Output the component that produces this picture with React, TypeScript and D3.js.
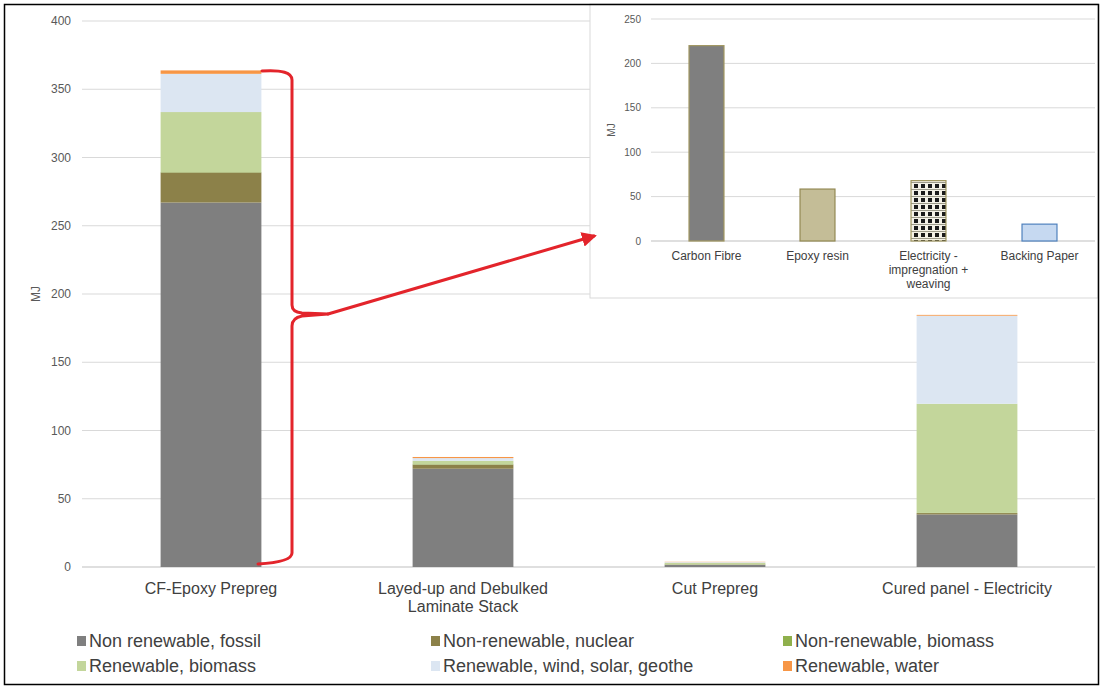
import React from "react";
import * as d3 from "d3";

// Main chart data (MJ)
const stages = ["CF-Epoxy Prepreg", "Layed-up and Debulked|Laminate Stack", "Cut Prepreg", "Cured panel - Electricity"];
const seriesNames = [
  "Non renewable, fossil",
  "Non-renewable, nuclear",
  "Non-renewable, biomass",
  "Renewable, biomass",
  "Renewable, wind, solar, geothe",
  "Renewable, water",
];
const seriesColors = ["#7f7f7f", "#8c8149", "#8fb04c", "#c3d69b", "#dce6f2", "#f79646"];
const fossil = [267, 72, 1.5, 38.5];
const nuclear = [22, 3, 0.3, 1];
const nrBiomass = [0.3, 0.3, 0.1, 0.1];
const rBiomass = [44, 2.5, 1.2, 80];
const windSolar = [28, 2, 0.5, 64.5];
const water = [2.5, 0.8, 0.2, 0.6];
const yTicks = [0, 50, 100, 150, 200, 250, 300, 350, 400];

// Inset data
const insetCats = ["Carbon Fibre", "Epoxy resin", "Electricity -|impregnation +|weaving", "Backing Paper"];
const insetVals = [220, 58.5, 68, 19];
const insetTicks = [0, 50, 100, 150, 200, 250];

const FONT = "'Liberation Sans', Arial, sans-serif";

export default function App() {
  const W = 1101;
  const H = 689;
  const x = d3.scaleBand<string>().domain(stages).range([85, 1093]).paddingInner(0.6).paddingOuter(0.3);
  const y = d3.scaleLinear().domain([0, 400]).range([567, 21]);

  const rows = stages.map((s, i) => {
    const r: any = { stage: s };
    const vals = [fossil, nuclear, nrBiomass, rBiomass, windSolar, water];
    seriesNames.forEach((n, k) => (r[n] = vals[k][i]));
    return r;
  });
  const stacked = d3.stack<any>().keys(seriesNames)(rows);

  const ix = d3.scaleBand<string>().domain(insetCats).range([651, 1095]).paddingInner(0.676).paddingOuter(0.338);
  const iy = d3.scaleLinear().domain([0, 250]).range([241, 19]);
  const insetFill = ["#7f7f7f", "#c4bd97", "url(#checks)", "#c6d9f1"];
  const insetStroke = ["#a09660", "#938953", "#a09660", "#4f81bd"];

  return (
    <svg width={W} height={H} style={{ position: "absolute", left: 0, top: 0, background: "#fff" }} fontFamily={FONT}>
      <defs>
        <pattern id="checks" x="688" y="0" width="7" height="7" patternUnits="userSpaceOnUse">
          <rect width="7" height="7" fill="#f4f1e6" />
          <rect x="2" y="2" width="4" height="4" fill="#1a1a1a" />
          <line x1="0" y1="0.5" x2="7" y2="0.5" stroke="#9c9a8a" strokeWidth="1" />
        </pattern>
        <marker id="arrow" viewBox="0 0 10 10" refX="8" refY="5" markerWidth="5" markerHeight="5" orient="auto">
          <path d="M0,0 L10,5 L0,10 z" fill="#e3242b" />
        </marker>
      </defs>

      {/* main gridlines */}
      {yTicks.map((t) => (
        <g key={t}>
          <line x1={82} x2={1095} y1={y(t)} y2={y(t)} stroke={t === 0 ? "#bfbfbf" : "#d9d9d9"} strokeWidth={1} />
          <text x={71} y={y(t)} dy="0.35em" textAnchor="end" fontSize={12} fill="#595959">{t}</text>
        </g>
      ))}
      <text transform={`translate(40,${(y(0) + y(400)) / 2}) rotate(-90)`} textAnchor="middle" fontSize={12} fill="#595959">MJ</text>

      {/* stacked bars */}
      {stacked.map((s, k) => (
        <g key={s.key} fill={seriesColors[k]}>
          {s.map((d, j) => (
            <rect key={j} x={x(stages[j])} width={x.bandwidth()} y={y(d[1])} height={Math.max(0, y(d[0]) - y(d[1]))} />
          ))}
        </g>
      ))}

      {/* category labels */}
      {stages.map((s) => (
        <text key={s} x={(x(s) ?? 0) + x.bandwidth() / 2} y={594} textAnchor="middle" fontSize={16} fill="#404040">
          {s.split("|").map((line, i) => (
            <tspan key={i} x={(x(s) ?? 0) + x.bandwidth() / 2} dy={i === 0 ? 0 : 18}>{line}</tspan>
          ))}
        </text>
      ))}

      {/* legend */}
      {seriesNames.map((n, k) => {
        const col = k % 3;
        const row = Math.floor(k / 3);
        const lx = [77, 431, 783][col];
        const ly = [641, 666][row];
        return (
          <g key={n}>
            <rect x={lx} y={ly - 5} width={9} height={10} fill={seriesColors[k]} />
            <text x={lx + 12} y={ly} dy="0.35em" fontSize={18} fill="#404040">{n}</text>
          </g>
        );
      })}

      {/* inset chart */}
      <rect x={590} y={4} width={508} height={294} fill="#fff" stroke="#d9d9d9" strokeWidth={1} />
      {insetTicks.map((t) => (
        <g key={t}>
          <line x1={651} x2={1095} y1={iy(t)} y2={iy(t)} stroke={t === 0 ? "#bfbfbf" : "#d9d9d9"} strokeWidth={1} />
          <text x={641} y={iy(t)} dy="0.35em" textAnchor="end" fontSize={10} fill="#595959">{t}</text>
        </g>
      ))}
      <text transform={`translate(615,${(iy(0) + iy(250)) / 2}) rotate(-90)`} textAnchor="middle" fontSize={10} fill="#595959">MJ</text>
      {insetCats.map((c, i) => (
        <rect key={c} x={(ix(c) ?? 0) + 0.5} width={ix.bandwidth() - 1} y={iy(insetVals[i])} height={iy(0) - iy(insetVals[i])}
          fill={insetFill[i]} stroke={insetStroke[i]} strokeWidth={1.2} />
      ))}
      {insetCats.map((c) => (
        <text key={c} y={260} textAnchor="middle" fontSize={12} fill="#404040">
          {c.split("|").map((line, i) => (
            <tspan key={i} x={(ix(c) ?? 0) + ix.bandwidth() / 2} dy={i === 0 ? 0 : 14}>{line}</tspan>
          ))}
        </text>
      ))}

      {/* bracket + arrow */}
      <g fill="none" stroke="#e3242b" strokeWidth={3} strokeLinecap="round" strokeLinejoin="round">
        <path d="M262,71 Q292,69 292,80 L292,305 Q292,312 302,313 L328,314 L302,316 Q292,318 292,326 L292,553 Q292,562 258,564" />
        <path d="M328,314 L594,236" markerEnd="url(#arrow)" />
      </g>

      {/* outer frame */}
      <rect x={4.5} y={4.5} width={1094} height={680} fill="none" stroke="#000" strokeWidth={1.5} />
    </svg>
  );
}
